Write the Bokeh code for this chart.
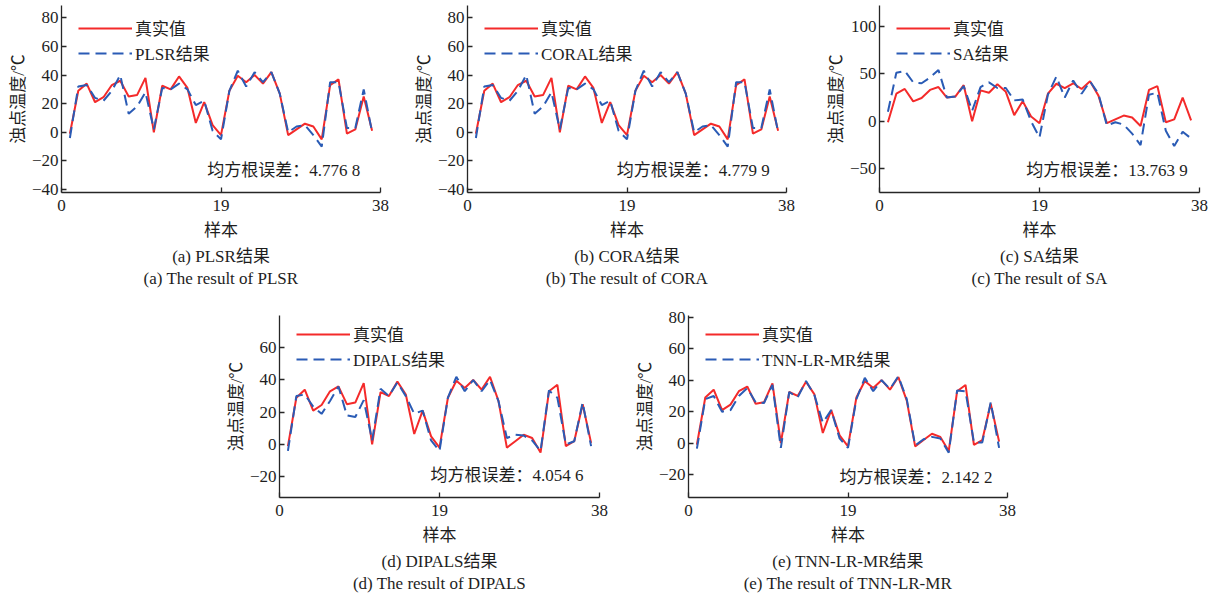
from bokeh.plotting import figure
from bokeh.layouts import row, column, Spacer
from bokeh.models import (FixedTicker, Range1d, Title, Label, Legend, LegendItem,
                          CustomJSTickFormatter)
from bokeh.embed import file_html
from bokeh.resources import INLINE

# ---------------- data ----------------
samples = list(range(1, 38))
true_vals = [-1, 29, 34, 21, 24.5, 33, 36, 25, 26, 38, 0, 32.5, 30, 39, 31, 6.5, 21, 5, -2, 29,
             39.5, 35, 40, 34, 42, 27, -2, 2, 6, 4, -5, 33, 37, -1, 2, 25, 1]
plsr_pred = [-4, 32, 33, 24, 22, 29, 40, 13, 18, 28, 2, 31, 30, 34, 30, 19, 22, 1, -5, 29,
             43, 32, 42, 35, 42, 27, 0, 4, 5, -2, -10, 35, 35, 3, 3, 30, 0]
coral_pred = [-4, 32, 33, 24, 22, 29, 40, 13, 18, 28, 2, 31, 30, 34, 30, 19, 22, 1, -5, 29,
              43, 32, 42, 35, 42, 27, 0, 4, 5, -2, -10, 35, 35, 3, 3, 30, 0]
sa_pred = [10, 51, 53, 41, 40, 46, 54, 25, 26, 37, 11, 36, 41, 35, 35, 22, 23, 0, -17, 28,
           47, 25, 43, 29, 42, 29, -4.5, -1, -3.5, -13, -25, 28, 30, -10, -26, -11, -18]
dipals_pred = [-4, 30, 31, 23.5, 19, 27, 36, 18, 17, 27.5, 2.5, 34.5, 30, 38.5, 30, 19, 21, 2.5, -4, 29,
               42, 33, 40, 33, 40, 27, 4, 6, 5.5, 2.5, -4, 33.5, 29, 0, 2, 26, -1]
tnn_pred = [-3.5, 28, 30, 20, 21, 30, 35, 26, 25.5, 37, -3, 32.5, 29, 39.5, 30.5, 13, 21, 3, -3, 28,
            41.5, 33, 40, 34.5, 42.5, 28, -1.5, 2.5, 4, 3, -6, 33.5, 33, 0.5, 0.5, 26, -3]

x_ticks = [0, 19, 38]
method_names = ["PLSR", "CORAL", "SA", "DIPALS", "TNN-LR-MR"]
rmse_texts = ["均方根误差：4.776 8", "均方根误差：4.779 9", "均方根误差：13.763 9",
              "均方根误差：4.054 6", "均方根误差：2.142 2"]
captions_cn = ["(a) PLSR结果", "(b) CORA结果", "(c) SA结果", "(d) DIPALS结果", "(e) TNN-LR-MR结果"]
captions_en = ["(a) The result of PLSR", "(b) The result of CORA", "(c) The result of SA",
               "(d) The result of DIPALS", "(e) The result of TNN-LR-MR"]
y_ticks_ab = [-40, -20, 0, 20, 40, 60, 80]
y_ticks_c = [-50, 0, 50, 100]
y_ticks_d = [-20, 0, 20, 40, 60]
y_ticks_e = [-20, 0, 20, 40, 60, 80]

FONT = "Liberation Serif, Noto Sans CJK SC"
RED = "#F42A2A"
BLUE = "#2A5BB5"
AXC = "#262626"
TXT = "#1e1e1e"
FS = "17px"

minus_fmt = "return tick < 0 ? '\\u2212' + (-tick) : String(tick);"


def make_panel(pred, name, rmse, yr, yticks, cap_cn, cap_en, left, right, top, bottom,
               fw, fh, rmse_pos, leg_top):
    p = figure(width=left + fw + right, height=top + fh + bottom,
               x_range=Range1d(0, 38), y_range=Range1d(*yr),
               output_backend="svg", toolbar_location=None,
               min_border_left=left, min_border_right=right,
               min_border_top=top, min_border_bottom=bottom)
    p.outline_line_color = None
    p.xgrid.visible = False
    p.ygrid.visible = False
    p.xaxis.ticker = FixedTicker(ticks=x_ticks)
    p.yaxis.ticker = FixedTicker(ticks=yticks)
    p.yaxis.formatter = CustomJSTickFormatter(code=minus_fmt)
    for ax in (p.xaxis, p.yaxis):
        ax.major_tick_in = 5
        ax.major_tick_out = 0
        ax.minor_tick_in = 0
        ax.minor_tick_out = 0
        ax.axis_line_color = AXC
        ax.axis_line_width = 1.3
        ax.major_tick_line_color = AXC
        ax.major_tick_line_width = 1.3
        ax.major_label_text_font = FONT
        ax.major_label_text_font_size = FS
        ax.major_label_text_color = TXT
        ax.axis_label_text_font = FONT
        ax.axis_label_text_font_size = FS
        ax.axis_label_text_font_style = "normal"
        ax.axis_label_text_color = TXT
    p.xaxis.axis_label = "样本"
    p.yaxis.axis_label = "浊点温度/℃"
    p.xaxis.major_label_standoff = 7
    p.xaxis.axis_label_standoff = 7
    p.yaxis.major_label_standoff = 3
    p.yaxis.axis_label_standoff = 1

    r1 = p.line(samples, true_vals, line_color=RED, line_width=2)
    r2 = p.line(samples, pred, line_color=BLUE, line_width=2, line_dash="11 6")
    pad = 5
    leg_h = 2 * pad + 2 * 25 - 4
    leg = Legend(items=[LegendItem(label="真实值", renderers=[r1]),
                        LegendItem(label=name + "结果", renderers=[r2])],
                 location=(12, fh - leg_top - leg_h), margin=0, padding=pad, spacing=-4,
                 glyph_width=54, glyph_height=14, label_standoff=3,
                 border_line_alpha=0, background_fill_alpha=0,
                 label_text_font=FONT, label_text_font_size=FS, label_text_color=TXT)
    p.add_layout(leg)

    p.add_layout(Label(x=rmse_pos[0], y=rmse_pos[1], text=rmse, text_align="right",
                       text_baseline="middle", text_font=FONT, text_font_size=FS,
                       text_color=TXT))
    t1 = Title(text=cap_cn, align="center", text_font=FONT, text_font_size=FS,
               text_font_style="normal", text_color=TXT, standoff=4)
    t2 = Title(text=cap_en, align="center", text_font=FONT, text_font_size=FS,
               text_font_style="normal", text_color=TXT, standoff=-2)
    p.add_layout(t1, "below")
    p.add_layout(t2, "below")
    return p


pa = make_panel(plsr_pred, method_names[0], rmse_texts[0], (-42.1, 88.6), y_ticks_ab,
                captions_cn[0], captions_en[0], 61, 27, 5, 100, 319, 187, (35.6, -26.7), 9)
pb = make_panel(coral_pred, method_names[1], rmse_texts[1], (-42.1, 88.6), y_ticks_ab,
                captions_cn[1], captions_en[1], 60, 21, 5, 100, 319, 187, (36.0, -26.7), 9)
pc = make_panel(sa_pred, method_names[2], rmse_texts[2], (-74.9, 121.8), y_ticks_c,
                captions_cn[2], captions_en[2], 72, 15, 5, 100, 320, 187, (36.6, -51.9), 9)
pd = make_panel(dipals_pred, method_names[3], rmse_texts[3], (-32.9, 80.0), y_ticks_d,
                captions_cn[3], captions_en[3], 60, 29, 23, 100, 320, 182, (36.1, -19.2), 5)
pe = make_panel(tnn_pred, method_names[4], rmse_texts[4], (-34.5, 81.1), y_ticks_e,
                captions_cn[4], captions_en[4], 60, 10, 23, 100, 319, 182, (36.2, -21.6), 5)

layout = column(row(pa, pb, pc), row(Spacer(width=219, height=305), pd, pe))

open("out.html", "w").write(file_html(layout, INLINE))
